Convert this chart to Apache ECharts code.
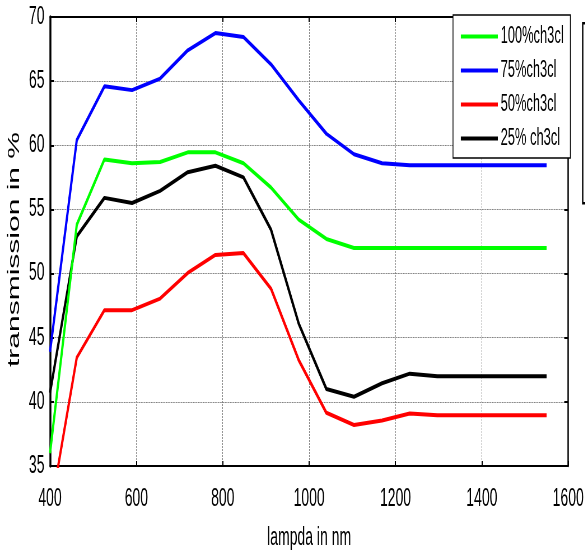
<!DOCTYPE html>
<html>
<head>
<meta charset="utf-8">
<script src="https://cdn.jsdelivr.net/npm/echarts@6/dist/echarts.min.js"></script>
<style>
html,body{margin:0;padding:0;overflow:hidden;background:#fff;width:585px;height:550px;}
#c{width:1045px;height:550px;transform:scaleX(0.56);transform-origin:0 0;}
</style>
</head>
<body>
<div id="c"></div>
<script>
// ---- data ----
const wavelength = [400, 462, 526, 590, 655, 719, 783, 848, 912, 976, 1040, 1104, 1169, 1233, 1297, 1550];
const ch3cl100 = [36.0, 53.8, 58.9, 58.6, 58.7, 59.45, 59.45, 58.6, 56.7, 54.2, 52.7, 52.0, 52.0, 52.0, 52.0, 52.0];
const ch3cl75  = [43.9, 60.4, 64.6, 64.3, 65.2, 67.4, 68.75, 68.45, 66.3, 63.5, 60.9, 59.3, 58.6, 58.45, 58.45, 58.45];
const ch3cl50  = [31.3, 43.45, 47.15, 47.15, 48.05, 50.05, 51.45, 51.6, 48.8, 43.25, 39.15, 38.2, 38.55, 39.1, 38.95, 38.95];
const ch3cl25  = [40.7, 52.9, 55.9, 55.5, 56.45, 57.9, 58.4, 57.5, 53.4, 46.1, 41.0, 40.4, 41.45, 42.2, 42.0, 42.0];
const seriesNames = ['100%ch3cl', '75%ch3cl', '50%ch3cl', '25% ch3cl'];
const seriesColors = ['#00ff00', '#0000ff', '#ff0000', '#000000'];
const xTicks = {min: 400, max: 1600, step: 200};
const yTicks = {min: 35, max: 70, step: 5};

const S = 0.56;
const W = 585 / S;
const px = v => v / S; // image x -> chart x
const FONT = "'Liberation Sans', Arial, Helvetica, sans-serif";

const chart = echarts.init(document.getElementById('c'), null, {renderer: 'canvas'});
const allData = [ch3cl100, ch3cl75, ch3cl50, ch3cl25];
const series = allData.map((d, i) => ({
  name: seriesNames[i],
  type: 'line',
  data: wavelength.map((x, j) => [x, d[j]]),
  showSymbol: false,
  symbol: 'none',
  clip: true,
  lineStyle: {color: seriesColors[i], width: 4},
  itemStyle: {color: seriesColors[i]},
  z: 10 - i
}));

const gridLine = {show: true, lineStyle: {color: '#808080', type: [2, 1], width: 1}};
chart.setOption({
  animation: false,
  backgroundColor: '#fff',
  grid: {left: px(50), right: W - px(568), top: 17, bottom: 84, show: false, containLabel: false, outerBoundsMode: 'none'},
  legend: {
    orient: 'vertical',
    left: px(453), top: 15,
    data: seriesNames,
    icon: 'rect',
    itemWidth: px(498) - px(461),
    itemHeight: 4,
    itemGap: 11,
    backgroundColor: '#fff',
    borderColor: '#000',
    borderWidth: 1.5,
    borderRadius: 0,
    padding: [10, 12, 8, 14],
    textStyle: {fontFamily: FONT, fontSize: 23, color: '#000', lineHeight: 23}
  },
  xAxis: [{
    type: 'value', min: xTicks.min, max: xTicks.max, interval: xTicks.step,
    name: 'lampda in nm', nameLocation: 'middle', nameGap: 60,
    nameTextStyle: {fontFamily: FONT, fontSize: 25, color: '#000'},
    axisLine: {show: true, onZero: false, lineStyle: {color: '#000', width: 2}},
    axisTick: {show: true, inside: true, length: 5, lineStyle: {color: '#000', width: 2}},
    axisLabel: {fontFamily: FONT, fontSize: 25, color: '#000', margin: 21, formatter: v => String(v)},
    splitLine: gridLine
  }, {
    type: 'value', position: 'top', min: xTicks.min, max: xTicks.max, interval: xTicks.step,
    axisLine: {show: true, lineStyle: {color: '#000', width: 2}},
    axisTick: {show: true, inside: true, length: 5, lineStyle: {color: '#000', width: 2}},
    axisLabel: {show: false}, splitLine: {show: false}
  }],
  yAxis: [{
    type: 'value', min: yTicks.min, max: yTicks.max, interval: yTicks.step,
    name: 'transmission in %', nameLocation: 'middle', nameGap: 40,
    nameTextStyle: {fontFamily: FONT, fontSize: 30, color: '#000', padding: [0, 16, 0, 0]},
    axisLine: {show: true, onZero: false, lineStyle: {color: '#000', width: 3.5}},
    axisTick: {show: true, inside: true, length: 7, lineStyle: {color: '#000', width: 2}},
    axisLabel: {fontFamily: FONT, fontSize: 25, color: '#000', margin: 10, formatter: v => String(v)},
    splitLine: gridLine
  }, {
    type: 'value', position: 'right', min: yTicks.min, max: yTicks.max, interval: yTicks.step,
    axisLine: {show: true, lineStyle: {color: '#000', width: 2.5}},
    axisTick: {show: true, inside: true, length: 7, lineStyle: {color: '#000', width: 2}},
    axisLabel: {show: false}, splitLine: {show: false}
  }],
  graphic: [{
    type: 'rect', left: px(582), top: 22,
    shape: {width: 200, height: 180},
    style: {fill: '#fff', stroke: '#000', lineWidth: 2.5}
  }],
  series: series
});
</script>
</body>
</html>
